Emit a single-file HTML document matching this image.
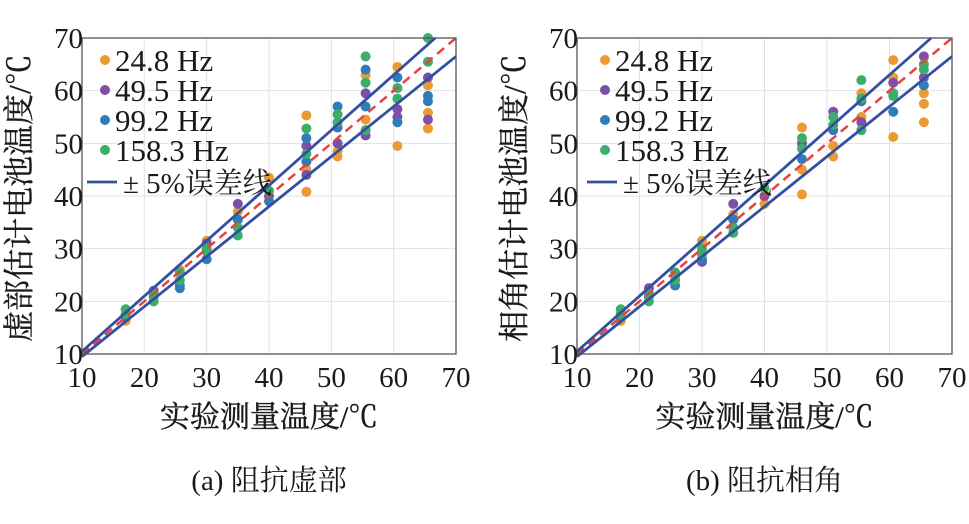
<!DOCTYPE html>
<html><head><meta charset="utf-8"><style>
html,body{margin:0;padding:0;background:#fff;width:969px;height:524px;overflow:hidden}
svg{display:block}
text{font-family:"Liberation Serif","Noto Serif CJK SC",serif;fill:#1a1a1a}
.cn{font-family:"Liberation Serif","Noto Serif CJK SC",serif}
</style></head><body>
<svg id="s" width="969" height="524" xmlns="http://www.w3.org/2000/svg"></svg>
<script>
const C={o:"#EE9A33",p:"#7E4FA8",b:"#2F7DB8",g:"#3BAF6A"};
const A={l:82,r:456,t:38,b:354,yl:"虚部估计电池温度/℃",cap:"(a) 阻抗虚部",lx:105,
data:[[17,"o16.3 p17 b17.5 g18.5 g17.5"],[21.5,"p22 b21 g20 g21.5"],[25.7,"o26 b23 b22.5 g25.5 g24"],
[30,"o31.5 p31 b28 g30 g29.5"],[35,"o37 p38.5 b35.5 g34 g32.5"],[40,"o43.5 p40 b39 g41"],
[46,"o55.3 o40.8 o45 p44 p49.5 b51 b46.5 g52.8 g48"],[51,"o47.5 o48.5 p50 b57 b53 g55.5 g54"],
[55.5,"o54.5 o63 p51.5 p59.5 b64 b57 g66.5 g61.5 g52.5"],[60.6,"o64.5 o49.5 p56.5 p55 b54 b62.5 g60.5 g58.5"],
[65.5,"o52.8 o55.8 o61 p54.5 p62.5 b59 b58 g70 g65.5"]]};
const B={l:577,r:952,t:38,b:354,yl:"相角估计电池温度/℃",cap:"(b) 阻抗相角",lx:605,
data:[[17,"o16.3 p17 b17.5 g18.5 g17.5"],[21.5,"p22.5 b21 g20 g21.5"],[25.7,"p25 b23 g25.5 g24"],
[30,"o31.5 p27.5 b28 g30 g29"],[35,"o36.5 p38.5 b35.5 g33 g34"],[40,"o38.5 p40 g41.5"],
[46,"o53 o40.3 o45 p50 b47 g51 g49"],[51,"o47.5 o49.5 p56 b52.5 g55 g53.5"],
[55.5,"o59.5 o55 p54 b58 g62 g52.5 g58.5"],[60.6,"o65.8 o51.2 o62.5 p61.5 b56 g59.5 g59"],
[65.5,"o54 o57.5 o59.5 p66.5 p62.5 b61 g65 g64"]]};
let h="";
function plot(P){
 const X=v=>P.l+(v-10)/60*(P.r-P.l), Y=v=>P.b-(v-10)/60*(P.b-P.t);
 for(let v=20;v<70;v+=10){h+=`<line x1="${X(v)}" y1="${P.t}" x2="${X(v)}" y2="${P.b}" stroke="#e2e2e2" stroke-width="1"/>`;
  h+=`<line x1="${P.l}" y1="${Y(v)}" x2="${P.r}" y2="${Y(v)}" stroke="#e2e2e2" stroke-width="1"/>`;}
 for(const [x,s] of P.data){for(const t of s.split(" ")){const c=C[t[0]],y=+t.slice(1);
  h+=`<circle cx="${X(x)}" cy="${Y(y)}" r="5" fill="${c}"/>`;}}
 h+=`<line x1="${X(10)}" y1="${Y(10)}" x2="${X(70)}" y2="${Y(70)}" stroke="#E8423F" stroke-width="2.5" stroke-dasharray="9,6"/>`;
 h+=`<line x1="${X(10)}" y1="${Y(10.5)}" x2="${X(70/1.05)}" y2="${Y(70)}" stroke="#3350A0" stroke-width="2.8"/>`;
 h+=`<line x1="${X(10)}" y1="${Y(9.5)}" x2="${X(70)}" y2="${Y(66.5)}" stroke="#3350A0" stroke-width="2.8"/>`;
 h+=`<rect x="${P.l}" y="${P.t}" width="${P.r-P.l}" height="${P.b-P.t}" fill="none" stroke="#555" stroke-width="1.3"/>`;
 for(let v=10;v<=70;v+=10){
  h+=`<text x="${X(v)}" y="${P.b+33}" font-size="29" text-anchor="middle">${v}</text>`;
  h+=`<text x="${P.l+1}" y="${Y(v)+10}" font-size="29" text-anchor="end">${v}</text>`;}
 const labs=["24.8 Hz","49.5 Hz","99.2 Hz","158.3 Hz"],cs=["o","p","b","g"];
 labs.forEach((l,i)=>{const y=60+i*30;h+=`<circle cx="${P.lx}" cy="${y}" r="5" fill="${C[cs[i]]}"/>`;
  h+=`<text x="${P.lx+10}" y="${y+11}" font-size="31">${l}</text>`;});
 h+=`<line x1="${P.lx-18}" y1="182" x2="${P.lx+12}" y2="182" stroke="#3350A0" stroke-width="2.8"/>`;
 h+=`<text x="${P.lx+18}" y="193" font-size="29" class="cn">± 5%误差线</text>`;
 const cx=(P.l+P.r)/2;
 h+=`<text x="${cx}" y="427" font-size="30" text-anchor="middle" class="cn" stroke="#1a1a1a" stroke-width="0.4">实验测量温度/℃</text>`;
 h+=`<text x="${cx}" y="490" font-size="29" text-anchor="middle" class="cn">${P.cap}</text>`;
 h+=`<text transform="translate(${P.l-52},${(P.t+P.b)/2+2}) rotate(-90)" font-size="31" text-anchor="middle" class="cn" stroke="#1a1a1a" stroke-width="0.4">${P.yl}</text>`;
}
plot(A);plot(B);
document.getElementById("s").innerHTML=h;
</script>
</body></html>
